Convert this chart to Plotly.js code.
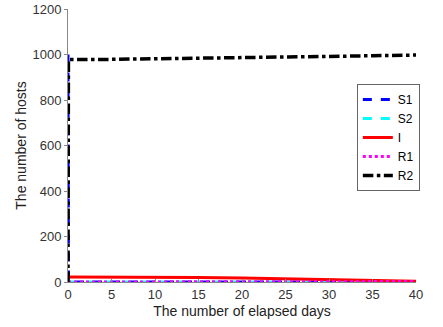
<!DOCTYPE html>
<html><head><meta charset="utf-8">
<script src="https://cdn.plot.ly/plotly-3.0.1.min.js"></script>
<style>html,body{margin:0;padding:0;background:#fff}#c{width:443px;height:327px}</style>
</head><body><div id="c"></div>
<script>
const days = [0, 0.05, 5, 10, 15, 20, 25, 30, 35, 40];
const S1 = [1000, 0, 0, 0, 0, 0, 0, 0, 0, 0];
const S2 = [0, 0, 0, 0, 0, 0, 0, 0, 0, 0];
const I  = [22, 22, 22, 21, 20, 18, 15, 11, 7, 3];
const R1 = [0, 0, 0, 0, 0, 0.5, 1, 1, 1.5, 2];
const R2 = [0, 978, 979, 981, 983, 986, 989, 992, 995, 998];
const names = ['S1','S2','I','R1','R2'];

const font = "'Liberation Sans', Arial, sans-serif";
const traces = [
  {x: days, y: S1, name: names[0], mode:'lines', line:{color:'#0000ff', width:3, dash:'dash'}},
  {x: days, y: S2, name: names[1], mode:'lines', line:{color:'#00ffff', width:3, dash:'dash'}},
  {x: days, y: I,  name: names[2], mode:'lines', line:{color:'#ff0000', width:3}},
  {x: days, y: R1, name: names[3], mode:'lines', line:{color:'#ff00ff', width:3, dash:'dot'}},
  {x: days, y: R2, name: names[4], mode:'lines', line:{color:'#000000', width:3.5, dash:'dashdot'}}
];
const layout = {
  width:443, height:327,
  margin:{l:68, r:27, t:9, b:45},
  paper_bgcolor:'#fff', plot_bgcolor:'#fff',
  font:{family:font, size:13, color:'#333'},
  showlegend:true,
  legend:{x:0.83, y:0.725, xanchor:'left', yanchor:'top', bgcolor:'#fff', bordercolor:'#666', borderwidth:1,
    font:{family:font, size:12, color:'#000'}, tracegroupgap:0, itemwidth:30},
  xaxis:{range:[0,40], dtick:5, showgrid:false, zeroline:false, showline:true, linecolor:'#888', linewidth:1,
    ticks:'inside', ticklen:3, tickcolor:'#888',
    title:{text:'The number of elapsed days', font:{family:font, size:14, color:'#222'}, standoff:5}},
  yaxis:{range:[0,1200.5], tickvals:[0,200,400,600,800,1000,1200], showgrid:false, zeroline:false, showline:true, linecolor:'#888', linewidth:1,
    ticks:'outside', ticklen:3, tickcolor:'#888',
    title:{text:'The number of hosts', font:{family:font, size:14, color:'#222'}, standoff:2}}
};
Plotly.newPlot('c', traces, layout, {displayModeBar:false, staticPlot:true});
</script></body></html>
